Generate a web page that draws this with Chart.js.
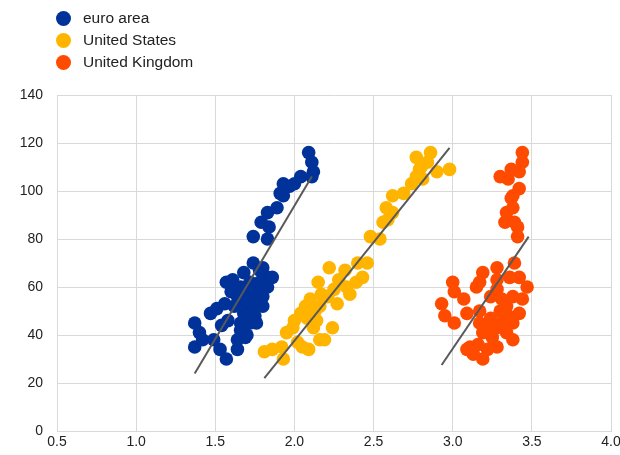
<!DOCTYPE html>
<html>
<head>
<meta charset="utf-8">
<script src="https://cdn.jsdelivr.net/npm/chart.js@4/dist/chart.umd.min.js"></script>
<style>
  html, body { margin: 0; padding: 0; background: #fff; }
  #wrap { position: relative; width: 620px; height: 455px; }
  #legend { position: absolute; left: 56px; top: 7px; font: 15.5px "Liberation Sans", Arial, sans-serif; color: #222; }
  #legend div { height: 22px; line-height: 22px; display: flex; align-items: center; }
  #legend span.dot { width: 15px; height: 15px; border-radius: 50%; margin-right: 12px; display: inline-block; }
</style>
</head>
<body>
<div id="wrap">
  <canvas id="c" width="620" height="455"></canvas>
  <div id="legend"></div>
</div>
<script>
// ── DATA ─────────────────────────────────────────────────────
const seriesNames  = ['euro area', 'United States', 'United Kingdom'];
const seriesColors = ['#003299', '#FFB400', '#FF4B00'];

const euroX = [1.37, 1.37, 1.40, 1.42, 1.47, 1.51, 1.49, 1.53, 1.57, 1.56, 1.57, 1.61, 1.60, 1.64, 1.64,
               1.69, 1.66, 1.68, 1.72, 1.74, 1.68, 1.74, 1.78, 1.83, 1.83, 1.80, 1.76, 1.72, 1.64, 1.70,
               1.66, 1.62, 1.70, 1.76, 1.78, 1.66, 1.70, 1.58, 1.54, 1.80, 1.74, 1.83, 1.79, 1.84, 1.83,
               1.89, 1.91, 1.93, 1.93, 1.97, 2.00, 2.04, 2.09, 2.11, 2.12, 2.11, 1.86, 1.80, 1.76,
               1.72, 1.68, 1.80, 1.75];
const euroY = [45, 35, 41, 38, 49, 51, 38, 34, 30, 53, 62, 63, 58, 38, 34,
               39, 45, 49, 45, 52, 66, 70, 67, 64, 60, 56, 53, 62, 56, 58,
               60, 52, 50, 58, 62, 42, 40, 46, 44, 68, 81, 80, 87, 85, 91,
               93, 99, 98, 103, 102, 103, 106, 116, 112, 108, 106, 64, 52, 45,
               55, 54, 60, 48];

const usX = [1.81, 1.86, 1.92, 1.93, 1.95, 1.99, 2.02, 2.04, 2.07, 2.09, 2.10, 2.12, 2.14, 2.16, 2.19,
             2.16, 2.17, 2.15, 2.22, 2.21, 2.24, 2.27, 2.28, 2.32, 2.33, 2.35, 2.39, 2.43, 2.40, 2.46,
             2.48, 2.54, 2.56, 2.59, 2.62, 2.58, 2.62, 2.69, 2.74, 2.77, 2.79, 2.80, 2.77, 2.86, 2.84,
             2.90, 2.98, 2.81, 2.05, 2.00, 2.08, 2.13, 2.25];
const usY = [33, 34, 35, 30, 41, 43, 37, 49, 52, 34, 55, 43, 46, 38, 38,
             52, 57, 62, 68, 56, 43, 53, 63, 67, 60, 57, 62, 64, 70, 70,
             81, 80, 87, 88, 91, 93, 98, 99, 103, 106, 109, 110, 114, 116, 112,
             108, 109, 105, 35, 46, 47, 50, 59];

const ukX = [3.44, 3.44, 3.42, 3.37, 3.30, 3.35, 3.42, 3.38, 3.37, 3.38, 3.34, 3.33, 3.39, 3.41, 3.41,
             3.39, 3.28, 3.19, 3.17, 3.15, 3.28, 3.36, 3.42, 3.47, 3.44, 3.38, 3.31, 3.28, 3.24, 3.00,
             3.01, 3.07, 2.93, 2.95, 3.01, 3.09, 3.17, 3.24, 3.42, 3.34, 3.32, 3.38, 3.28, 3.22, 3.17,
             3.19, 3.25, 3.34, 3.38, 3.11, 3.16, 3.22, 3.28, 3.19, 3.09, 3.13, 3.30, 3.35];
const ukY = [116, 112, 108, 109, 106, 105, 101, 98, 97, 93, 91, 87, 87, 85, 81,
             70, 68, 66, 62, 60, 63, 64, 64, 60, 55, 56, 55, 59, 56, 62,
             58, 55, 53, 48, 45, 49, 50, 47, 49, 52, 46, 45, 43, 43, 45,
             41, 39, 41, 38, 35, 36, 34, 35, 30, 34, 32, 50, 48];

// trend line end points
const trendX = [[1.37, 2.11], [1.81, 2.98], [2.93, 3.48]];
const trendY = [[24, 106], [22, 118], [27.5, 81]];

const xTicks = [0.5, 1.0, 1.5, 2.0, 2.5, 3.0, 3.5, 4.0];
const yTicks = [0, 20, 40, 60, 80, 100, 120, 140];

// ── LEGEND ───────────────────────────────────────────────────
const legendEl = document.getElementById('legend');
seriesNames.forEach((name, i) => {
  const row = document.createElement('div');
  row.innerHTML = `<span class="dot" style="background:${seriesColors[i]}"></span>${name}`;
  legendEl.appendChild(row);
});

// ── CHART ────────────────────────────────────────────────────
const pts = (xs, ys) => xs.map((x, i) => ({ x, y: ys[i] }));
const allX = [euroX, usX, ukX];
const allY = [euroY, usY, ukY];

const datasets = [];
trendX.forEach((xs, i) => {
  datasets.push({
    type: 'line',
    data: pts(xs, trendY[i]),
    borderColor: '#595959',
    borderWidth: 2,
    pointRadius: 0,
    order: 0,
  });
});
seriesNames.forEach((name, i) => {
  datasets.push({
    label: name,
    data: pts(allX[i], allY[i]),
    backgroundColor: seriesColors[i],
    borderWidth: 0,
    pointRadius: 6.8,
    order: 1,
  });
});

const tickFont = { family: '"Liberation Sans", Arial, sans-serif', size: 14 };

new Chart(document.getElementById('c'), {
  type: 'scatter',
  data: { datasets },
  options: {
    responsive: false,
    animation: false,
    layout: { padding: { top: 95, right: 0, left: 0, bottom: 0 } },
    plugins: { legend: { display: false }, tooltip: { enabled: false } },
    scales: {
      x: {
        type: 'linear',
        min: xTicks[0], max: xTicks[xTicks.length - 1],
        afterBuildTicks: s => { s.ticks = xTicks.map(v => ({ value: v })); },
        ticks: { color: '#222', font: tickFont, padding: 3, maxRotation: 0, callback: v => v.toFixed(1) },
        grid: { color: '#d9d9d9', drawTicks: false },
        border: { color: '#d9d9d9' },
        afterFit: s => { s.height = 24; s.paddingRight = 9; },
      },
      y: {
        min: 0, max: 140,
        afterBuildTicks: s => { s.ticks = yTicks.map(v => ({ value: v })); },
        ticks: { color: '#222', font: tickFont, padding: 14 },
        grid: { color: '#d9d9d9', drawTicks: false },
        border: { color: '#d9d9d9' },
        afterFit: s => { s.width = 57; },
      },
    },
  },
});
</script>
</body>
</html>
